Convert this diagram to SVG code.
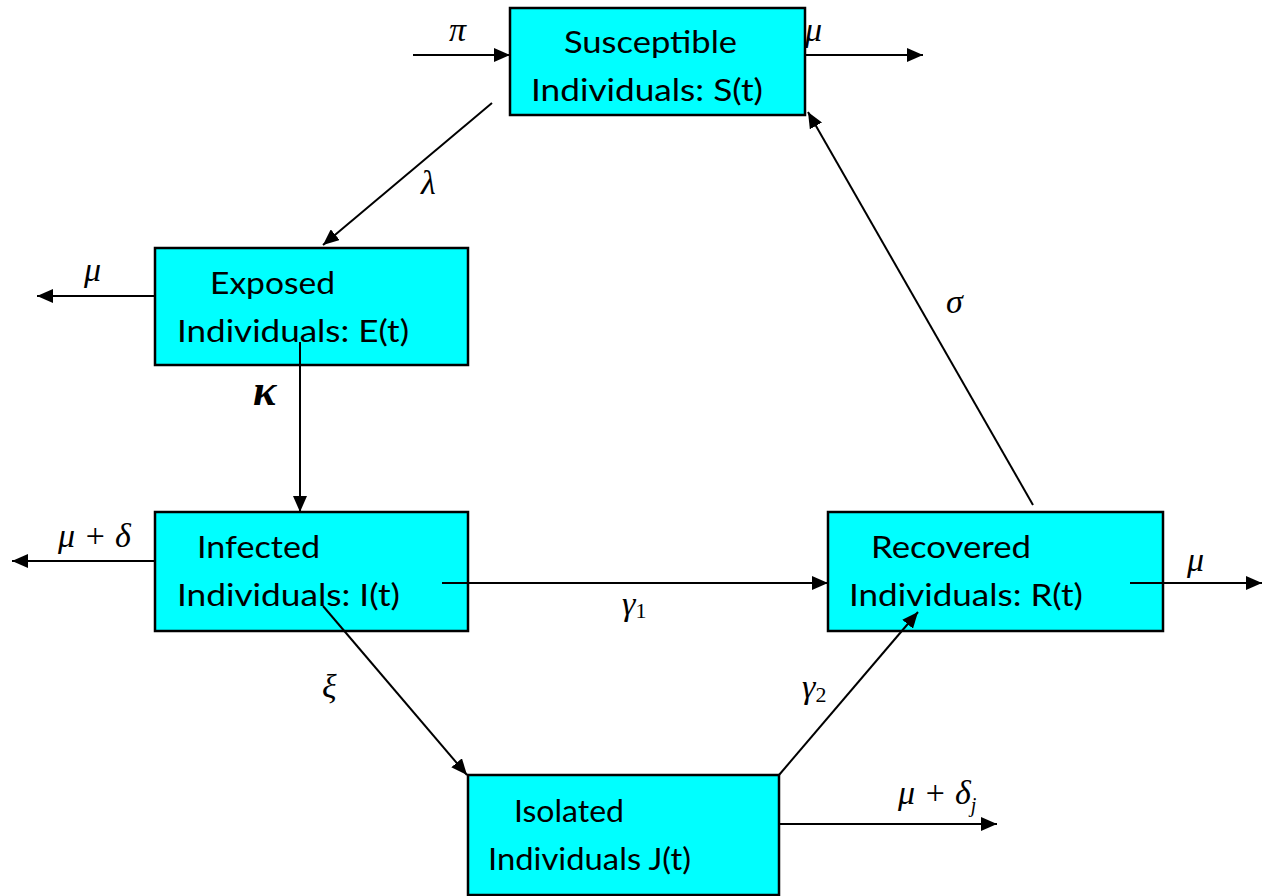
<svg xmlns="http://www.w3.org/2000/svg" width="1265" height="896" viewBox="0 0 1265 896">
<style>
.box{fill:#00FFFF;stroke:#000;stroke-width:2.5}
.t{font-family:Lato,"Open Sans","Liberation Sans",sans-serif;font-size:30px;fill:#000}
.m{font-family:"Liberation Serif",serif;font-style:italic;font-size:34px;fill:#000}
.k{font-size:44px;font-weight:bold}
.c{stroke:#000;stroke-width:2;fill:none;marker-end:url(#ah)}
</style>
<defs>
<marker id="ah" markerUnits="userSpaceOnUse" markerWidth="16" markerHeight="14" refX="16" refY="7" orient="auto">
<path d="M0,0 L16,7 L0,14 Z" fill="#000"/>
</marker>
</defs>
<rect width="1265" height="896" fill="#fff"/>
<g id="susceptible">
<rect class="box" x="510" y="8" width="295" height="107"/>
<text class="t" x="564" y="53" textLength="173" lengthAdjust="spacingAndGlyphs">Susceptible</text>
<text class="t" x="531" y="101" textLength="232" lengthAdjust="spacingAndGlyphs">Individuals: S(t)</text>
</g>
<g id="exposed">
<rect class="box" x="155" y="248" width="313" height="117"/>
<text class="t" x="210" y="294" textLength="125" lengthAdjust="spacingAndGlyphs">Exposed</text>
<text class="t" x="177" y="342" textLength="232" lengthAdjust="spacingAndGlyphs">Individuals: E(t)</text>
</g>
<g id="infected">
<rect class="box" x="155" y="512" width="313" height="119"/>
<text class="t" x="197" y="558" textLength="123" lengthAdjust="spacingAndGlyphs">Infected</text>
<text class="t" x="177" y="606" textLength="223" lengthAdjust="spacingAndGlyphs">Individuals: I(t)</text>
</g>
<g id="recovered">
<rect class="box" x="828" y="512" width="335" height="119"/>
<text class="t" x="871" y="558" textLength="160" lengthAdjust="spacingAndGlyphs">Recovered</text>
<text class="t" x="849" y="606" textLength="234" lengthAdjust="spacingAndGlyphs">Individuals: R(t)</text>
</g>
<g id="isolated">
<rect class="box" x="468" y="775" width="311" height="120"/>
<text class="t" x="514" y="822" textLength="110" lengthAdjust="spacingAndGlyphs">Isolated</text>
<text class="t" x="488" y="870" textLength="203" lengthAdjust="spacingAndGlyphs">Individuals J(t)</text>
</g>
<g id="connectors">
<line class="c" x1="413" y1="55" x2="510" y2="55"/>
<line class="c" x1="805" y1="55" x2="923" y2="55"/>
<line class="c" x1="492" y1="103" x2="323" y2="245"/>
<line class="c" x1="155" y1="296" x2="37" y2="296"/>
<line class="c" x1="300" y1="342" x2="300" y2="512"/>
<line class="c" x1="155" y1="561" x2="12" y2="561"/>
<line class="c" x1="442" y1="583" x2="828" y2="583"/>
<line class="c" x1="1130" y1="583" x2="1262" y2="583"/>
<line class="c" x1="1033" y1="505" x2="808" y2="112"/>
<line class="c" x1="323" y1="606" x2="467" y2="775"/>
<line class="c" x1="779" y1="775" x2="918" y2="612"/>
<line class="c" x1="779" y1="824" x2="997" y2="824"/>
<text class="m" x="449" y="41">π</text>
<text class="m" x="805" y="41">μ</text>
<text class="m" x="421" y="194">λ</text>
<text class="m" x="84" y="281">μ</text>
<text class="m k" x="253" y="405">κ</text>
<text class="m" x="622" y="615">γ<tspan font-size="22" dy="3" font-style="normal">1</tspan></text>
<text class="m" x="1187" y="571">μ</text>
<text class="m" x="946" y="313">σ</text>
<text class="m" x="322" y="698">ξ</text>
<text class="m" x="802" y="698">γ<tspan font-size="22" dy="4" font-style="normal">2</tspan></text>
<text class="m" x="58" y="547">μ + δ</text>
<text class="m" x="898" y="804">μ + δ<tspan font-size="20" dy="8">j</tspan></text>
</g>
</svg>
